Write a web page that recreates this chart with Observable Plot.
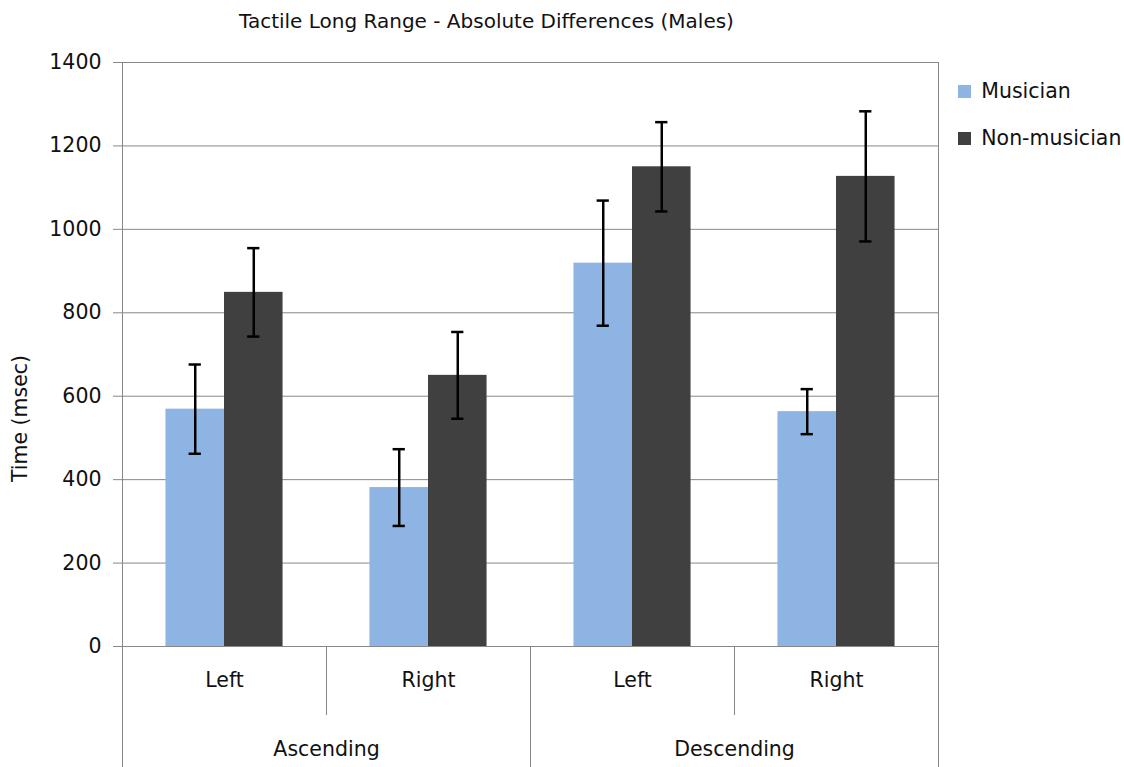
<!DOCTYPE html>
<html>
<head>
<meta charset="utf-8">
<script src="https://cdn.jsdelivr.net/npm/d3@7"></script>
<script src="https://cdn.jsdelivr.net/npm/@observablehq/plot@0.6"></script>
<style>
  html, body { margin: 0; padding: 0; background: #fff; }
  #wrap { position: relative; width: 1124px; height: 767px; overflow: hidden; font-family: "DejaVu Sans", sans-serif; color: #111; }
  #title { height: 40px; width: 1124px; font-size: 20px; }
  #title span { position: absolute; left: 239px; top: 9px; }
  #legend { position: absolute; left: 958px; top: 76px; }
  #legend .lg-swatch { font-size: 20.5px; line-height: 30px; margin-bottom: 16px; }
</style>
</head>
<body>
<div id="wrap">
  <div id="title"><span>Tactile Long Range - Absolute Differences (Males)</span></div>
  <div id="chart"></div>
  <div id="legend"></div>
</div>
<script>
// ---- data ----
const groups = ["Ascending", "Descending"];
const sides = ["Left", "Right"];
const series = ["Musician", "Non-musician"];
const musician = [569, 381, 919, 563];
const nonMusician = [849, 650, 1150, 1127];
const musicianErr = [107, 92, 150, 54];
const nonMusicianErr = [106, 104, 107, 156];
const yTicks = [0, 200, 400, 600, 800, 1000, 1200, 1400];
const colors = ["#8EB4E3", "#404040"];
const yLabel = "Time (msec)";

// ---- layout helpers ----
const barW = 0.287;   // bar width as fraction of a category slot
const capHalf = 0.03; // error-bar cap half width
const rows = [];
groups.forEach((g, gi) => sides.forEach((s, si) => {
  const k = gi * sides.length + si;
  const c = k + 0.5;
  [[musician, musicianErr], [nonMusician, nonMusicianErr]].forEach(([vals, errs], j) => {
    const x1 = j === 0 ? c - barW : c;
    const x2 = j === 0 ? c : c + barW;
    rows.push({group: g, side: s, series: series[j], value: vals[k], lo: vals[k] - errs[k], hi: vals[k] + errs[k], x1, x2, xc: (x1 + x2) / 2});
  });
}));
const sideTicks = [];
groups.forEach((g, gi) => sides.forEach((s, si) => sideTicks.push({x: gi * sides.length + si + 0.5, label: s})));
const groupTicks = groups.map((g, gi) => ({x: gi * sides.length + sides.length / 2, label: g}));
const nSlots = groups.length * sides.length;
const innerSeps = d3.range(0, nSlots + 1).filter(i => i % sides.length !== 0);
const outerSeps = d3.range(0, nSlots + 1).filter(i => i % sides.length === 0);

const gray = "#878787";
const font = "DejaVu Sans, sans-serif";
const chart = Plot.plot({
  width: 1124,
  height: 727,
  marginLeft: 122,
  marginRight: 186,
  marginTop: 22,
  marginBottom: 121,
  style: {fontFamily: font, color: "#111", background: "#fff", overflow: "visible"},
  x: {domain: [0, nSlots], axis: null},
  y: {domain: [0, 1400], axis: null},
  color: {domain: series, range: colors},
  marks: [
    Plot.gridY(yTicks, {stroke: gray, strokeOpacity: 1, strokeWidth: 1}),
    Plot.rectY(rows, {x1: "x1", x2: "x2", y: "value", fill: "series"}),
    Plot.ruleX(rows, {x: "xc", y1: "lo", y2: "hi", stroke: "#000", strokeWidth: 2.5}),
    Plot.ruleY(rows, {y: "lo", x1: d => d.xc - capHalf, x2: d => d.xc + capHalf, stroke: "#000", strokeWidth: 2.5}),
    Plot.ruleY(rows, {y: "hi", x1: d => d.xc - capHalf, x2: d => d.xc + capHalf, stroke: "#000", strokeWidth: 2.5}),
    Plot.ruleX([0, nSlots], {stroke: gray}),
    Plot.ruleY([0], {stroke: gray}),
    Plot.axisY({ticks: yTicks, tickFormat: d => String(d), tickSize: 9, tickPadding: 12, fontSize: 20.5, stroke: gray, label: null}),
    Plot.axisX({ticks: innerSeps, tickSize: 69, tickFormat: () => "", stroke: gray, label: null}),
    Plot.axisX({ticks: outerSeps, tickSize: 121, tickFormat: () => "", stroke: gray, label: null}),
    Plot.text(sideTicks, {x: "x", text: "label", frameAnchor: "bottom", dy: 40, fontSize: 20.5, fill: "#111"}),
    Plot.text(groupTicks, {x: "x", text: "label", frameAnchor: "bottom", dy: 109, fontSize: 20.5, fill: "#111"}),
    Plot.text([yLabel], {frameAnchor: "left", textAnchor: "middle", rotate: -90, dx: -102, dy: 64, fontSize: 20.5, fill: "#111"})
  ]
});
document.getElementById("chart").appendChild(chart);

const legend = Plot.legend({
  color: {domain: series, range: colors},
  legend: "swatches",
  columns: 1,
  swatchSize: 13,
  className: "lg",
  style: {fontFamily: font, fontSize: "20.5px", color: "#111"}
});
document.getElementById("legend").appendChild(legend);
</script>
</body>
</html>
